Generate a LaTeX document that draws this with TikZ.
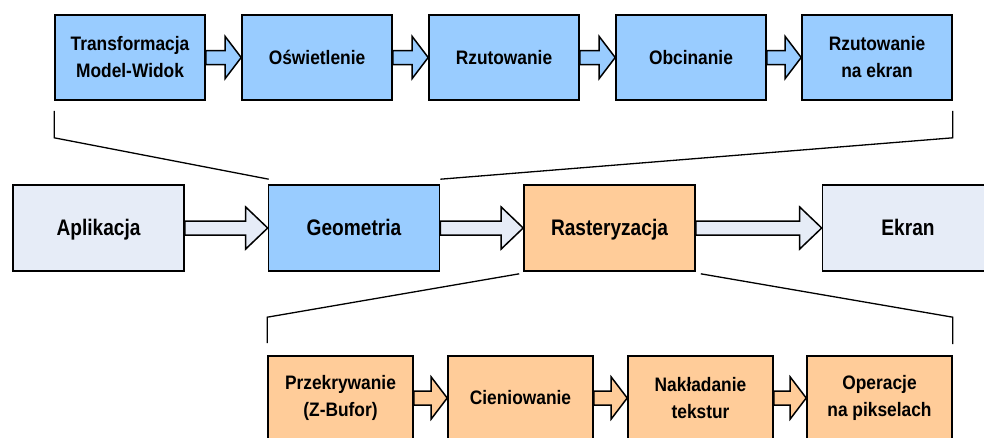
\documentclass[tikz,border=0pt]{standalone}
\usepackage{fontspec}
\setmainfont[FakeStretch=0.89]{Liberation Sans}
\newfontfamily\midfont[FakeStretch=0.85]{Liberation Sans}
\usetikzlibrary{calc}

\definecolor{geoblue}{HTML}{99CCFF}
\definecolor{rastorange}{HTML}{FFCC99}
\definecolor{paleblue}{HTML}{E6ECF7}

% fat arrow between two boxes: from, to, head length, fill
\newcommand{\blockarrow}[4]{%
  \draw[line width=1.5pt, fill=#4] let \p1=(#1.east), \p2=(#2.west) in
    (\x1,\y1+7pt) -- (\x2-#3,\y1+7pt) -- (\x2-#3,\y1+21pt) -- (\x2,\y1)
    -- (\x2-#3,\y1-21pt) -- (\x2-#3,\y1-7pt) -- (\x1,\y1-7pt) -- cycle;}

\begin{document}
\begin{tikzpicture}[x=1pt, y=-1pt,
    every node/.style={draw, line width=1.6pt, inner sep=0pt, align=center,
      font=\fontsize{19.5}{27}\selectfont\bfseries},
    topbox/.style={fill=geoblue, minimum width=150pt, minimum height=85pt},
    midbox/.style={minimum width=171pt, minimum height=86pt,
      text height=18pt, text depth=4pt,
      font=\midfont\fontsize{22.5}{27}\selectfont\bfseries},
    botbox/.style={fill=rastorange, minimum width=145pt, minimum height=84pt}
]
\useasboundingbox (0,0) rectangle (984,437);
\clip (0,0) rectangle (984,437);

% geometria
\node[topbox] (tmv) at (130,57.5) {Transformacja\\Model-Widok};
\node[topbox] (osw) at (317,57.5) {Oświetlenie};
\node[topbox] (rzu) at (504,57.5) {Rzutowanie};
\node[topbox] (obc) at (691,57.5) {Obcinanie};
\node[topbox] (rze) at (877,57.5) {Rzutowanie\\na ekran};

% main pipeline
\node[midbox, fill=paleblue] (apl) at (98.5,228) {Aplikacja};
\node[midbox, fill=geoblue] (geo) at (354,228) {Geometria};
\node[midbox, fill=rastorange] (ras) at (609.5,228) {Rasteryzacja};
\node[midbox, fill=paleblue] (ekr) at (908,228) {Ekran};

% rasteryzacja
\node[botbox] (prz) at (340.5,398) {Przekrywanie\\(Z-Bufor)};
\node[botbox] (cie) at (520.5,398) {Cieniowanie};
\node[botbox] (nak) at (700.5,398) {Nakładanie\\tekstur};
\node[botbox] (ope) at (879.5,398) {Operacje\\na pikselach};

\blockarrow{tmv}{osw}{16pt}{geoblue}
\blockarrow{osw}{rzu}{16pt}{geoblue}
\blockarrow{rzu}{obc}{16pt}{geoblue}
\blockarrow{obc}{rze}{16pt}{geoblue}

\blockarrow{apl}{geo}{22pt}{paleblue}
\blockarrow{geo}{ras}{22pt}{paleblue}
\blockarrow{ras}{ekr}{22pt}{paleblue}

\blockarrow{prz}{cie}{16pt}{rastorange}
\blockarrow{cie}{nak}{16pt}{rastorange}
\blockarrow{nak}{ope}{16pt}{rastorange}

% brackets
\draw[line width=1.3pt] (tmv.south west) ++(0,10) -- ++(0,27) -- ($(geo.north west)+(1,-5)$);
\draw[line width=1.3pt] (rze.south east) ++(0,10) -- ++(0,27) -- ($(geo.north east)+(0,-5)$);
\draw[line width=1.3pt] ($(ras.south west)+(-4,2)$) -- ($(prz.north west)+(0,-38)$) -- ($(prz.north west)+(0,-12)$);
\draw[line width=1.3pt] ($(ras.south east)+(5,2)$) -- ($(ope.north east)+(0,-38)$) -- ($(ope.north east)+(0,-11)$);
\end{tikzpicture}
\end{document}
